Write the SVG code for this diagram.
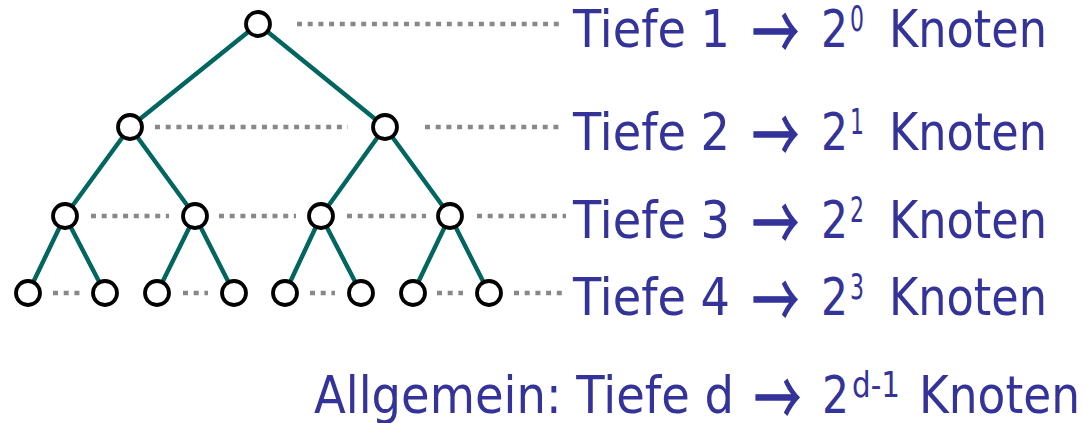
<svg xmlns="http://www.w3.org/2000/svg" width="1086" height="423" viewBox="0 0 1086 423">
  <style>
    .edge { stroke: #00665f; stroke-width: 4.4; stroke-linecap: butt; fill: none; }
    .dots { stroke: #888888; stroke-width: 4.5; stroke-dasharray: 5 5.7; fill: none; }
    .node { fill: #ffffff; stroke: #000000; stroke-width: 3.8; }
    text { font-family: "DejaVu Sans", Verdana, sans-serif; fill: #333399; }
    .lbl { font-size: 52px; }
    .sup { font-size: 35px; }
    .arr { font-family: "Noto Sans CJK JP", "DejaVu Sans", sans-serif; font-size: 76px; font-weight: normal; stroke: #333399; stroke-width: 1.3; }
  </style>
  <rect width="1086" height="423" fill="#ffffff"/>

  <!-- level guide lines -->
  <g id="guides">
    <path class="dots" d="M297 24H564"/>
    <path class="dots" d="M155 127H348M425 127H564"/>
    <path class="dots" d="M91 216H169M219 216H296M347 216H426M477 216H566"/>
    <path class="dots" d="M53 293H81M183 293H208M310 293H335M437 293H463M514 293H564"/>
  </g>

  <!-- tree edges -->
  <g id="connectors">
    <path class="edge" d="M258 24L130 127M258 24L385 127"/>
    <path class="edge" d="M130 127L65 216M130 127L195 216M385 127L321 216M385 127L450 216"/>
    <path class="edge" d="M65 216L28 293M65 216L105 293M195 216L157 293M195 216L234 293"/>
    <path class="edge" d="M321 216L285 293M321 216L361 293M450 216L413 293M450 216L489 293"/>
  </g>

  <!-- nodes -->
  <g id="n1"><circle class="node" cx="258" cy="24" r="12"/></g>
  <g id="n2"><circle class="node" cx="130" cy="127" r="12"/></g>
  <g id="n3"><circle class="node" cx="385" cy="127" r="12"/></g>
  <g id="n4"><circle class="node" cx="65" cy="216" r="12"/></g>
  <g id="n5"><circle class="node" cx="195" cy="216" r="12"/></g>
  <g id="n6"><circle class="node" cx="321" cy="216" r="12"/></g>
  <g id="n7"><circle class="node" cx="450" cy="216" r="12"/></g>
  <g id="n8"><circle class="node" cx="28" cy="293" r="12"/></g>
  <g id="n9"><circle class="node" cx="105" cy="293" r="12"/></g>
  <g id="n10"><circle class="node" cx="157" cy="293" r="12"/></g>
  <g id="n11"><circle class="node" cx="234" cy="293" r="12"/></g>
  <g id="n12"><circle class="node" cx="285" cy="293" r="12"/></g>
  <g id="n13"><circle class="node" cx="361" cy="293" r="12"/></g>
  <g id="n14"><circle class="node" cx="413" cy="293" r="12"/></g>
  <g id="n15"><circle class="node" cx="489" cy="293" r="12"/></g>

  <!-- depth labels -->
  <g id="label1">
    <text class="lbl" x="573" y="47" textLength="157" lengthAdjust="spacingAndGlyphs">Tiefe 1</text>
    <text class="arr" x="752" y="60" textLength="47" lengthAdjust="spacingAndGlyphs">→</text>
    <text class="lbl" x="821" y="47" textLength="27" lengthAdjust="spacingAndGlyphs">2</text>
    <text class="sup" x="850" y="31" textLength="14" lengthAdjust="spacingAndGlyphs">0</text>
    <text class="lbl" x="889" y="47" textLength="158" lengthAdjust="spacingAndGlyphs">Knoten</text>
  </g>
  <g id="label2">
    <text class="lbl" x="573" y="150" textLength="157" lengthAdjust="spacingAndGlyphs">Tiefe 2</text>
    <text class="arr" x="752" y="163" textLength="47" lengthAdjust="spacingAndGlyphs">→</text>
    <text class="lbl" x="821" y="150" textLength="27" lengthAdjust="spacingAndGlyphs">2</text>
    <text class="sup" x="850" y="134" textLength="14" lengthAdjust="spacingAndGlyphs">1</text>
    <text class="lbl" x="889" y="150" textLength="158" lengthAdjust="spacingAndGlyphs">Knoten</text>
  </g>
  <g id="label3">
    <text class="lbl" x="573" y="238" textLength="157" lengthAdjust="spacingAndGlyphs">Tiefe 3</text>
    <text class="arr" x="752" y="251" textLength="47" lengthAdjust="spacingAndGlyphs">→</text>
    <text class="lbl" x="821" y="238" textLength="27" lengthAdjust="spacingAndGlyphs">2</text>
    <text class="sup" x="850" y="222" textLength="14" lengthAdjust="spacingAndGlyphs">2</text>
    <text class="lbl" x="889" y="238" textLength="158" lengthAdjust="spacingAndGlyphs">Knoten</text>
  </g>
  <g id="label4">
    <text class="lbl" x="573" y="315" textLength="157" lengthAdjust="spacingAndGlyphs">Tiefe 4</text>
    <text class="arr" x="752" y="328" textLength="47" lengthAdjust="spacingAndGlyphs">→</text>
    <text class="lbl" x="821" y="315" textLength="27" lengthAdjust="spacingAndGlyphs">2</text>
    <text class="sup" x="850" y="299" textLength="14" lengthAdjust="spacingAndGlyphs">3</text>
    <text class="lbl" x="889" y="315" textLength="158" lengthAdjust="spacingAndGlyphs">Knoten</text>
  </g>
  <g id="general">
    <text class="lbl" x="314" y="413" textLength="420" lengthAdjust="spacingAndGlyphs">Allgemein: Tiefe d</text>
    <text class="arr" x="754" y="426" textLength="47" lengthAdjust="spacingAndGlyphs">→</text>
    <text class="lbl" x="822" y="413" textLength="27" lengthAdjust="spacingAndGlyphs">2</text>
    <text class="sup" x="852" y="397" textLength="48" lengthAdjust="spacingAndGlyphs">d-1</text>
    <text class="lbl" x="919" y="413" textLength="161" lengthAdjust="spacingAndGlyphs">Knoten</text>
  </g>
</svg>
